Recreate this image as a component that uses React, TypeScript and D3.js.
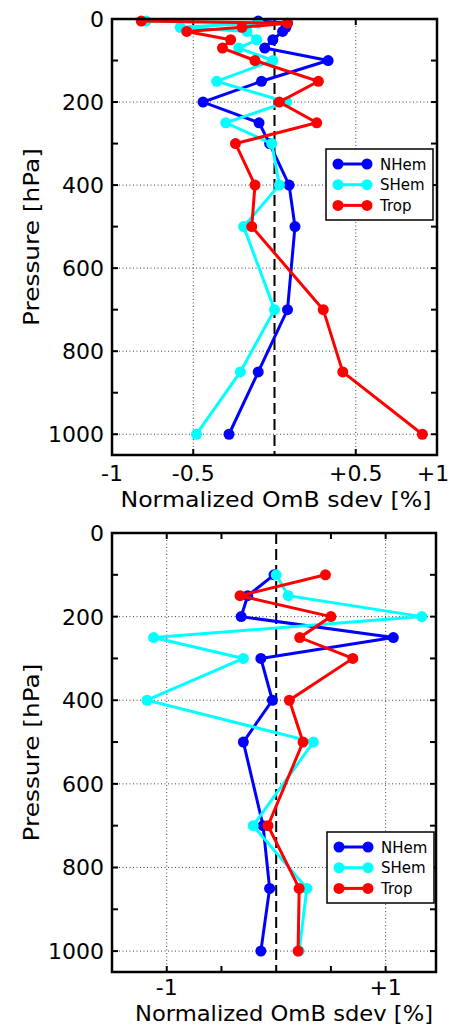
import { useRef, useEffect } from 'react';
import * as d3 from 'd3';

// upper panel: pressure levels [hPa] and normalized OmB sdev [%]
const topLevels = [5, 10, 20, 30, 50, 70, 100, 150, 200, 250, 300, 400, 500, 700, 850, 1000];
const topNHem = [-0.10, 0.08, 0.07, 0.05, -0.01, -0.06, 0.33, -0.08, -0.44, -0.095, -0.03, 0.09, 0.126, 0.08, -0.10, -0.28];
const topSHem = [-0.79, -0.10, -0.58, -0.17, -0.11, -0.22, -0.01, -0.356, 0.075, -0.30, -0.017, 0.03, -0.19, 0.0, -0.21, -0.48];
const topTrop = [-0.82, 0.08, -0.20, -0.54, -0.27, -0.32, -0.12, 0.27, 0.03, 0.26, -0.24, -0.12, -0.14, 0.30, 0.42, 0.91];

// lower panel
const bottomLevels = [100, 150, 200, 250, 300, 400, 500, 700, 850, 1000];
const bottomNHem = [-0.02, -0.26, -0.32, 1.07, -0.14, -0.035, -0.30, -0.12, -0.06, -0.14];
const bottomSHem = [0.0, 0.11, 1.33, -1.12, -0.30, -1.18, 0.34, -0.21, 0.28, 0.21];
const bottomTrop = [0.45, -0.33, 0.50, 0.215, 0.70, 0.12, 0.245, -0.075, 0.21, 0.20];

const seriesNames = ['NHem', 'SHem', 'Trop'];
const seriesColors = ['#0000ff', '#00ffff', '#ff0000'];

const pressureTicks = [0, 100, 200, 300, 400, 500, 600, 700, 800, 900, 1000];
const pressureLabels = [0, 200, 400, 600, 800, 1000];

const topXTicks = [-1, -0.5, 0.5, 1];
const topXLabels = ['-1', '-0.5', '+0.5', '+1'];
const bottomXTicks = [-1, 1];
const bottomXLabels = ['-1', '+1'];
const bottomMinorTicks = [-0.5, 0.5];

const font = 'DejaVu Sans, sans-serif';

function drawPanel(svg, p) {
  const x = d3.scaleLinear().domain(p.xDomain).range([p.left, p.right]);
  const y = d3.scaleLinear().domain([0, 1050]).range([p.top, p.bottom]);
  const g = svg.append('g');

  // dotted grid
  g.selectAll('.hgrid').data(pressureLabels.filter(d => d > 0)).enter()
    .append('line')
    .attr('x1', p.left).attr('x2', p.right)
    .attr('y1', d => y(d)).attr('y2', d => y(d))
    .attr('stroke', '#444').attr('stroke-width', 1).attr('stroke-dasharray', '1,2.5');
  g.selectAll('.vgrid').data(p.xTicks.filter(d => d > p.xDomain[0] && d < p.xDomain[1])).enter()
    .append('line')
    .attr('x1', d => x(d)).attr('x2', d => x(d))
    .attr('y1', p.top).attr('y2', p.bottom)
    .attr('stroke', '#444').attr('stroke-width', 1).attr('stroke-dasharray', '1,2.5');

  // zero line
  g.append('line')
    .attr('x1', x(0)).attr('x2', x(0))
    .attr('y1', p.top).attr('y2', p.bottom)
    .attr('stroke', '#000').attr('stroke-width', 2).attr('stroke-dasharray', '11,5');

  // ticks (inward, all four sides)
  const tl = 6;
  pressureTicks.forEach(d => {
    g.append('line').attr('x1', p.left).attr('x2', p.left + tl).attr('y1', y(d)).attr('y2', y(d)).attr('stroke', '#000').attr('stroke-width', 2);
    g.append('line').attr('x1', p.right - tl).attr('x2', p.right).attr('y1', y(d)).attr('y2', y(d)).attr('stroke', '#000').attr('stroke-width', 2);
  });
  p.xTicks.concat(p.minorTicks).forEach(d => {
    g.append('line').attr('x1', x(d)).attr('x2', x(d)).attr('y1', p.bottom).attr('y2', p.bottom - tl).attr('stroke', '#000').attr('stroke-width', 2);
    g.append('line').attr('x1', x(d)).attr('x2', x(d)).attr('y1', p.top).attr('y2', p.top + tl).attr('stroke', '#000').attr('stroke-width', 2);
  });

  // series
  const line = d3.line().x(d => x(d[1])).y(d => y(d[0]));
  p.series.forEach((vals, i) => {
    const pts = p.levels.map((lev, j) => [lev, vals[j]]);
    g.append('path').datum(pts)
      .attr('d', line)
      .attr('fill', 'none')
      .attr('stroke', seriesColors[i])
      .attr('stroke-width', 3);
    g.selectAll('.dot' + i).data(pts).enter()
      .append('circle')
      .attr('cx', d => x(d[1])).attr('cy', d => y(d[0]))
      .attr('r', 5.5)
      .attr('fill', seriesColors[i]);
  });

  // frame
  g.append('rect')
    .attr('x', p.left).attr('y', p.top)
    .attr('width', p.right - p.left).attr('height', p.bottom - p.top)
    .attr('fill', 'none').attr('stroke', '#000').attr('stroke-width', 2.5);

  // tick labels
  g.selectAll('.ylab').data(pressureLabels).enter()
    .append('text')
    .attr('x', p.left - 8).attr('y', d => y(d) + 8)
    .attr('text-anchor', 'end')
    .attr('font-family', font).attr('font-size', 22)
    .text(d => d);
  g.selectAll('.xlab').data(p.xTicks).enter()
    .append('text')
    // keep the last label inside the page
    .attr('x', d => Math.min(x(d), 433))
    .attr('y', p.bottom + p.tickGap)
    .attr('text-anchor', 'middle')
    .attr('font-family', font).attr('font-size', 22)
    .text((d, i) => p.xLabels[i]);

  // axis titles
  g.append('text')
    .attr('x', p.xTitleX).attr('y', p.xTitleY)
    .attr('text-anchor', 'middle')
    .attr('font-family', font).attr('font-size', 22)
    .attr('textLength', p.xTitleW).attr('lengthAdjust', 'spacingAndGlyphs')
    .text('Normalized OmB sdev [%]');
  g.append('text')
    .attr('transform', `translate(39, ${(p.top + p.bottom) / 2}) rotate(-90)`)
    .attr('text-anchor', 'middle')
    .attr('font-family', font).attr('font-size', 22)
    .attr('textLength', 178).attr('lengthAdjust', 'spacingAndGlyphs')
    .text('Pressure [hPa]');

  // legend
  const lg = g.append('g');
  lg.append('rect')
    .attr('x', p.legend.x).attr('y', p.legend.y)
    .attr('width', 107).attr('height', 71)
    .attr('fill', '#fff').attr('stroke', '#000').attr('stroke-width', 1.5);
  seriesNames.forEach((name, i) => {
    const ly = p.legend.y + 15 + i * 20.7;
    lg.append('line')
      .attr('x1', p.legend.x + 12).attr('x2', p.legend.x + 41)
      .attr('y1', ly).attr('y2', ly)
      .attr('stroke', seriesColors[i]).attr('stroke-width', 3);
    [12, 41].forEach(dx => {
      lg.append('circle').attr('cx', p.legend.x + dx).attr('cy', ly).attr('r', 5.5).attr('fill', seriesColors[i]);
    });
    lg.append('text')
      .attr('x', p.legend.x + 54).attr('y', ly + 5.5)
      .attr('font-family', font).attr('font-size', 15)
      .text(name);
  });
}

export default function App() {
  const svgRef = useRef(null);

  useEffect(() => {
    const svg = d3.select(svgRef.current);
    svg.selectAll('*').remove();

    drawPanel(svg, {
      left: 112, right: 437, top: 19, bottom: 455,
      xDomain: [-1, 1],
      xTicks: topXTicks, xLabels: topXLabels, minorTicks: [],
      levels: topLevels,
      series: [topNHem, topSHem, topTrop],
      legend: { x: 326, y: 149 },
      tickGap: 26,
      xTitleX: 276, xTitleY: 507, xTitleW: 311,
    });

    drawPanel(svg, {
      left: 112, right: 436, top: 533, bottom: 972,
      xDomain: [-1.5, 1.46],
      xTicks: bottomXTicks, xLabels: bottomXLabels, minorTicks: bottomMinorTicks,
      levels: bottomLevels,
      series: [bottomNHem, bottomSHem, bottomTrop],
      legend: { x: 327, y: 832 },
      tickGap: 23,
      xTitleX: 284, xTitleY: 1021, xTitleW: 298,
    });
  }, []);

  return (
    <svg ref={svgRef} width={451} height={1029}
      style={{ position: 'absolute', left: 0, top: 0, background: '#fff' }} />
  );
}
